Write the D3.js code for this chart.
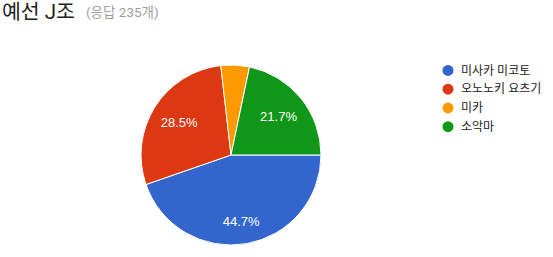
<!DOCTYPE html>
<html><head><meta charset="utf-8">
<script src="https://cdn.jsdelivr.net/npm/d3@7"></script>
<style>body{margin:0;background:#fff;}svg{display:block;}</style>
</head><body>
<svg id="c" width="553" height="257"></svg>
<script>
const categories = ["미사카 미코토", "오노노키 요츠기", "미카", "소악마"];
const counts = [105, 67, 12, 51];
const colors = ["#3366cc", "#dc3912", "#ff9900", "#109618"];
const titleText = "예선 J조";
const subtitleText = "(응답 235개)";

const svg = d3.select("#c");
const cx = 231, cy = 155, r = 90;

svg.append("text").attr("x", 2).attr("y", 18.5)
  .attr("font-family", "Roboto, 'Noto Sans CJK KR', sans-serif")
  .attr("font-size", 20.5).attr("fill", "#212121").text(titleText);
svg.append("text").attr("x", 86).attr("y", 17)
  .attr("font-family", "Roboto, 'Noto Sans CJK KR', sans-serif")
  .attr("font-size", 13.5).attr("fill", "#9e9e9e").text(subtitleText);

const total = d3.sum(counts);
const pie = d3.pie().sort(null).startAngle(Math.PI/2).endAngle(Math.PI/2 + 2*Math.PI);
const arcs = pie(counts);
const arc = d3.arc().innerRadius(0).outerRadius(r);
const g = svg.append("g").attr("transform", `translate(${cx},${cy})`);
g.selectAll("path").data(arcs).join("path")
  .attr("d", arc).attr("fill", (d,i) => colors[i])
  .attr("stroke", "#fff").attr("stroke-width", 1);

const labelArc = d3.arc().innerRadius(r*0.68).outerRadius(r*0.68);
g.selectAll("text.lbl").data(arcs.filter(d => d.value/total > 0.06)).join("text")
  .attr("class", "lbl")
  .attr("transform", d => { const c = labelArc.centroid(d); const extra = d.index===0 ? 6 : 0; return `translate(${c[0]},${c[1]+extra})`; })
  .attr("text-anchor", "middle").attr("dy", "0.35em")
  .attr("font-family", "Arial, 'Liberation Sans', sans-serif")
  .attr("font-size", 13).attr("fill", "#fff")
  .text(d => (d.value/total*100).toFixed(1) + "%");

const y = d3.scaleBand().domain(categories).range([61, 136]);
const leg = svg.append("g");
const items = leg.selectAll("g").data(categories).join("g")
  .attr("transform", d => `translate(0,${y(d) + y.bandwidth()/2})`);
items.append("circle").attr("cx", 448).attr("cy", 0).attr("r", 5.5)
  .attr("fill", (d,i) => colors[i]);
items.append("text").attr("x", 461).attr("y", 0).attr("dy", "0.35em")
  .attr("font-family", "Roboto, 'Noto Sans CJK KR', sans-serif")
  .attr("font-size", 12).attr("fill", "#222").text(d => d);
</script>
</body></html>
